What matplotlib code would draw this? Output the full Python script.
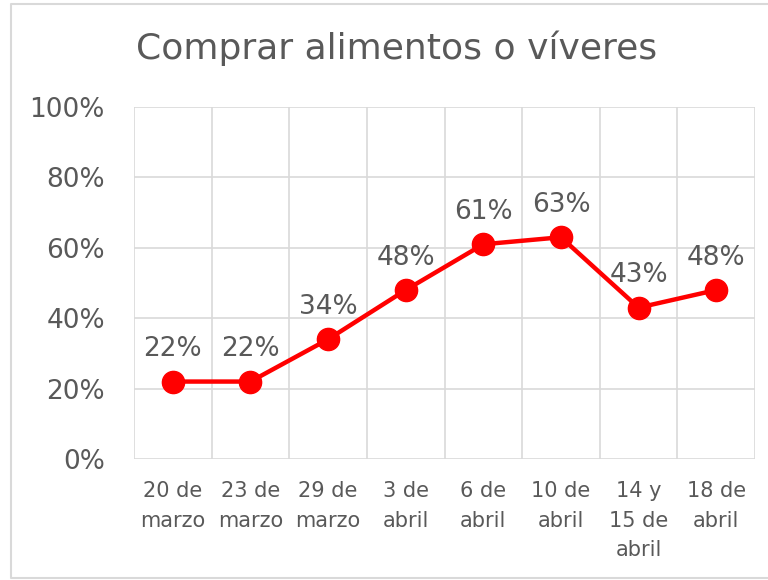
import matplotlib.pyplot as plt
from matplotlib.lines import Line2D

# data
categories = ["20 de\nmarzo", "23 de\nmarzo", "29 de\nmarzo", "3 de\nabril",
              "6 de\nabril", "10 de\nabril", "14 y\n15 de\nabril", "18 de\nabril"]
values = [22, 22, 34, 48, 61, 63, 43, 48]
y_ticks = [0, 20, 40, 60, 80, 100]

txt = "#595959"
plt.rcParams['font.family'] = ['DejaVu Sans']

fig = plt.figure(figsize=(7.68, 5.80), dpi=100)
ax = fig.add_axes([134 / 768, 1 - 459 / 580, 621 / 768, 352 / 580])

x = list(range(len(values)))
ax.plot(x, values, color="#FF0000", lw=3.2, marker="o", ms=16, zorder=3)
for xi, v in zip(x, values):
    ax.annotate(f"{v}%", (xi, v), xytext=(0, 14), textcoords="offset points",
                ha="center", va="bottom", fontsize=19, color=txt)

ax.set_xlim(-0.5, len(values) - 0.5)
ax.set_ylim(0, 100)
ax.set_yticks(y_ticks)
ax.set_yticklabels([f"{t}%" for t in y_ticks], fontsize=19, color=txt)
ax.set_xticks(x)
ax.set_xticklabels(categories, fontsize=15, color=txt, linespacing=1.6)
ax.set_xticks([i - 0.5 for i in range(len(values) + 1)], minor=True)
ax.grid(True, which="minor", axis="x", color="#d9d9d9", lw=1.2)
ax.grid(True, which="major", axis="y", color="#d9d9d9", lw=1.2)
ax.tick_params(axis="both", which="both", length=0)
ax.tick_params(axis="y", pad=21)
ax.tick_params(axis="x", pad=16)
for s in ax.spines.values():
    s.set_visible(False)
ax.set_axisbelow(True)

fig.text(397 / 768, 1 - 48 / 580, "Comprar alimentos o víveres", ha="center",
         va="center", fontsize=26, color=txt)

# outer chart border (left, top, bottom)
fig.add_artist(Line2D([1, 11 / 768, 11 / 768, 1],
                      [1 - 4 / 580, 1 - 4 / 580, 1 - 578 / 580, 1 - 578 / 580],
                      transform=fig.transFigure, color="#d9d9d9", lw=1.5))

fig.savefig("out.png", dpi=100)
